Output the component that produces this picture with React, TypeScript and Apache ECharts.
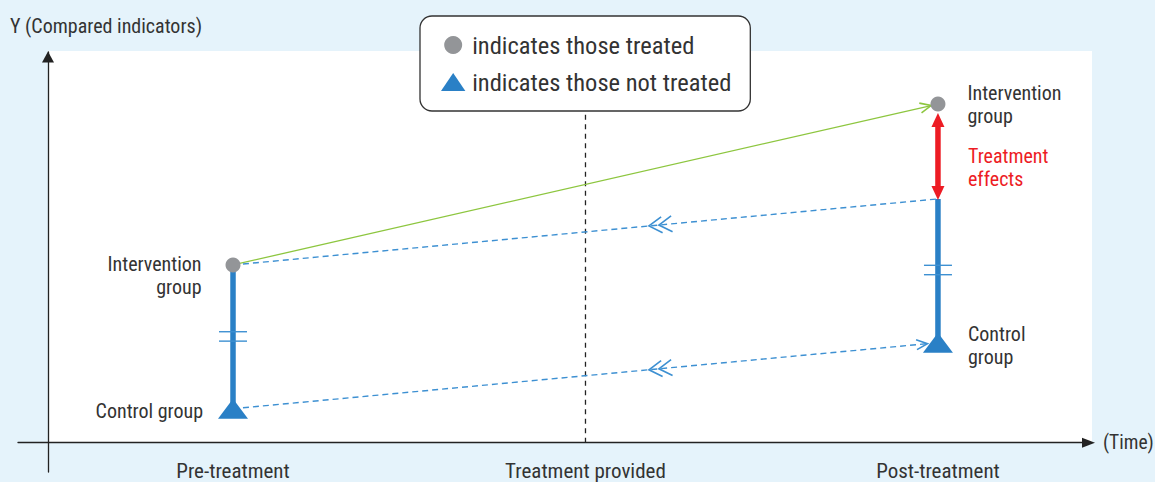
import { useEffect, useRef } from "react";
import * as echarts from "echarts";

const categories = ["Pre-treatment", "Treatment provided", "Post-treatment"];
const categoryPositions = [0, 1, 2];
const treatedName = "indicates those treated";
const untreatedName = "indicates those not treated";
const treatedPoints = [[0, 45.5], [2, 86.7]];
const untreatedPoints = [[0, 8.7], [2, 25.6]];
const treatedLabels = ["Intervention\ngroup", "Intervention\ngroup"];
const untreatedLabels = ["Control group", "Control\ngroup"];
const preGroupBar = [[0, 8.7], [0, 45.5]];
const postGroupBar = [[2, 25.6], [2, 62.4]];
const breakMarks = [[0, 27.2], [2, 44.2]];
const observedTrend = [[0, 45.5, 2, 86.7]];
const counterfactualTrend = [[0, 45.5, 2, 62.4]];
const controlTrend = [[0, 8.7, 2, 25.6]];
const treatmentEffect = [[2, 62.4, 86.7]];
const treatmentEffectLabel = "Treatment\neffects";
const treatmentTime = 1;
const yAxisTitle = "Y (Compared indicators)";
const xAxisTitle = "(Time)";

const FONT = "'Liberation Sans Narrow', 'Arial Narrow', 'Roboto Condensed', sans-serif";
const TEXT = "#333333";
const BLUE = "#2a80c6";
const BLUE_LIGHT = "#3d90d2";
const GRAY = "#939598";
const GREEN = "#8dc63f";
const RED = "#ed1c24";

function connector(opts: any) {
  return (params: any, api: any) => {
    const p1 = api.coord([api.value(0), api.value(1)]);
    const p2 = api.coord([api.value(2), api.value(3)]);
    const dx = p2[0] - p1[0];
    const dy = p2[1] - p1[1];
    const len = Math.hypot(dx, dy);
    const ux = dx / len, uy = dy / len, nx = -uy, ny = ux;
    const ex = p2[0] - ux * opts.inset;
    const ey = p2[1] - uy * opts.inset;
    const children: any[] = [
      {
        type: "line",
        shape: { x1: p1[0], y1: p1[1], x2: ex, y2: ey },
        style: { stroke: opts.color, lineWidth: opts.width, lineDash: opts.dash || null, fill: "none" },
      },
    ];
    const head = (tx: number, ty: number, dir: number, L: number, W: number) => ({
      type: "polyline",
      shape: {
        points: [
          [tx + dir * ux * L + nx * W, ty + dir * uy * L + ny * W],
          [tx, ty],
          [tx + dir * ux * L - nx * W, ty + dir * uy * L - ny * W],
        ],
      },
      style: { stroke: opts.color, lineWidth: 1.6, fill: "none" },
    });
    if (opts.endArrow) children.push(head(ex, ey, -1, 11, 5));
    if (opts.chevrons) {
      for (let k = 0; k < 2; k++) {
        const d = len * opts.chevronAt + k * 10;
        children.push(head(p1[0] + ux * d, p1[1] + uy * d, 1, 13, 8));
      }
    }
    return { type: "group", children };
  };
}

export default function App() {
  const ref = useRef<HTMLDivElement>(null);
  useEffect(() => {
    if (!ref.current) return;
    const chart = echarts.init(ref.current, null, { renderer: "svg" });
    const labelBase = { show: true, color: TEXT, fontFamily: FONT, fontSize: 20, lineHeight: 23 };
    const option: any = {
      animation: false,
      backgroundColor: "#e5f3fb",
      textStyle: { fontFamily: FONT },
      title: {
        text: yAxisTitle,
        left: 10,
        top: 14,
        padding: 0,
        textStyle: { fontFamily: FONT, fontSize: 20, fontWeight: "normal", color: TEXT, lineHeight: 24 },
      },
      graphic: [
        {
          type: "rect",
          silent: true,
          z: -10,
          shape: { x: 48, y: 51, width: 1044, height: 392 },
          style: { fill: "#ffffff" },
        },
      ],
      legend: {
        orient: "vertical",
        left: 420,
        top: 16,
        padding: [15, 19, 15, 21],
        itemGap: 9,
        itemWidth: 28,
        itemHeight: 18,
        selectedMode: false,
        backgroundColor: "#ffffff",
        borderColor: "#333333",
        borderWidth: 1.3,
        borderRadius: 12,
        z: 10,
        textStyle: { fontFamily: FONT, fontSize: 24.5, color: TEXT, lineHeight: 28 },
        data: [
          { name: treatedName, icon: "circle" },
          { name: untreatedName, icon: "path://M0,17 L11.5,0 L23,17 Z" },
        ],
      },
      grid: { left: 18, right: 69, top: 52, bottom: 10, containLabel: false, outerBoundsMode: "none" },
      xAxis: {
        type: "value",
        min: -0.61,
        max: 2.42,
        offset: -29.3,
        name: xAxisTitle,
        nameLocation: "end",
        nameGap: 17,
        nameTextStyle: { fontFamily: FONT, fontSize: 19.5, color: TEXT, verticalAlign: "middle" },
        axisLine: {
          onZero: false,
          symbol: ["none", "triangle"],
          symbolSize: [10, 13],
          symbolOffset: [0, 2.5],
          lineStyle: { color: "#222222", width: 1.3 },
        },
        axisTick: { show: false },
        splitLine: { show: false },
        axisLabel: {
          customValues: categoryPositions,
          formatter: (v: number) => categories[Math.round(v)] || "",
          margin: 18,
          fontFamily: FONT,
          fontSize: 21,
          color: TEXT,
        },
      },
      yAxis: {
        type: "value",
        min: -7.5,
        max: 100,
        offset: -30,
        axisLine: {
          onZero: false,
          symbol: ["none", "triangle"],
          symbolSize: [12, 11],
          symbolOffset: [0, -5],
          lineStyle: { color: "#222222", width: 1.3 },
        },
        axisTick: { show: false },
        splitLine: { show: false },
        axisLabel: { show: false },
      },
      series: [
        {
          type: "line",
          silent: true,
          z: 1,
          symbol: "none",
          data: [[treatmentTime, 0], [treatmentTime, 95]],
          lineStyle: { color: "#222222", width: 1.3, type: [5, 4.5] },
        },
        {
          type: "line",
          silent: true,
          z: 2,
          symbol: "none",
          data: preGroupBar,
          lineStyle: { color: BLUE, width: 5.5, cap: "butt" },
        },
        {
          type: "line",
          silent: true,
          z: 2,
          symbol: "none",
          data: postGroupBar,
          lineStyle: { color: BLUE, width: 5.5, cap: "butt" },
        },
        {
          type: "custom",
          silent: true,
          z: 3,
          data: breakMarks,
          encode: { x: 0, y: 1 },
          renderItem: (params: any, api: any) => {
            const p = api.coord([api.value(0), api.value(1)]);
            const mk = (dy: number) => ({
              type: "line",
              shape: { x1: p[0] - 14, y1: p[1] + dy, x2: p[0] + 14, y2: p[1] + dy },
              style: { stroke: BLUE_LIGHT, lineWidth: 1.4 },
            });
            return { type: "group", children: [mk(-4.7), mk(4.7)] };
          },
        },
        {
          type: "custom",
          silent: true,
          z: 3,
          data: observedTrend,
          encode: { x: [0, 2], y: [1, 3] },
          renderItem: connector({ color: GREEN, width: 1.3, inset: 7, endArrow: true }),
        },
        {
          type: "custom",
          silent: true,
          z: 3,
          data: counterfactualTrend,
          encode: { x: [0, 2], y: [1, 3] },
          renderItem: connector({ color: BLUE_LIGHT, width: 1.4, inset: 0, dash: [6, 4], chevrons: true, chevronAt: 0.59 }),
        },
        {
          type: "custom",
          silent: true,
          z: 3,
          data: controlTrend,
          encode: { x: [0, 2], y: [1, 3] },
          renderItem: connector({ color: BLUE_LIGHT, width: 1.4, inset: 10.5, dash: [6, 4], endArrow: true, chevrons: true, chevronAt: 0.59 }),
        },
        {
          type: "custom",
          silent: true,
          z: 4,
          data: treatmentEffect,
          encode: { x: 0, y: [1, 2] },
          renderItem: (params: any, api: any) => {
            const top = api.coord([api.value(0), api.value(2)]);
            const bot = api.coord([api.value(0), api.value(1)]);
            const x = top[0];
            const t = top[1] + 9;
            const b = bot[1] + 1;
            const hh = 14, hw = 6.5;
            return {
              type: "group",
              children: [
                {
                  type: "line",
                  shape: { x1: x, y1: t + hh - 1, x2: x, y2: b - hh + 1 },
                  style: { stroke: RED, lineWidth: 5.5 },
                },
                {
                  type: "polygon",
                  shape: { points: [[x, t], [x - hw, t + hh], [x + hw, t + hh]] },
                  style: { fill: RED },
                },
                {
                  type: "polygon",
                  shape: { points: [[x, b], [x - hw, b - hh], [x + hw, b - hh]] },
                  style: { fill: RED },
                },
                {
                  type: "text",
                  x: x + 30,
                  y: top[1] + 41,
                  style: {
                    text: treatmentEffectLabel,
                    fill: RED,
                    fontFamily: FONT,
                    fontSize: 20,
                    lineHeight: 23,
                    align: "left",
                    verticalAlign: "top",
                  },
                },
              ],
            };
          },
        },
        {
          name: treatedName,
          type: "scatter",
          z: 6,
          symbol: "circle",
          symbolSize: 15,
          itemStyle: { color: GRAY, opacity: 1 },
          data: treatedPoints.map((p, i) => ({
            value: p,
            label:
              i === 0
                ? { ...labelBase, formatter: treatedLabels[i], position: "left", distance: 24, align: "right", offset: [0, 11] }
                : { ...labelBase, formatter: treatedLabels[i], position: "right", distance: 22, align: "left", offset: [0, 1] },
          })),
        },
        {
          name: untreatedName,
          type: "scatter",
          z: 6,
          symbol: "triangle",
          symbolSize: [30, 20],
          itemStyle: { color: BLUE, opacity: 1 },
          data: untreatedPoints.map((p, i) => ({
            value: p,
            label:
              i === 0
                ? { ...labelBase, formatter: untreatedLabels[i], position: "left", distance: 15, align: "right", offset: [0, 2] }
                : { ...labelBase, formatter: untreatedLabels[i], position: "right", distance: 15, align: "left", offset: [0, 3] },
          })),
        },
      ],
    };
    chart.setOption(option);
    return () => chart.dispose();
  }, []);
  return (
    <div
      ref={ref}
      style={{ position: "absolute", left: 0, top: 0, width: 1155, height: 482 }}
    />
  );
}
